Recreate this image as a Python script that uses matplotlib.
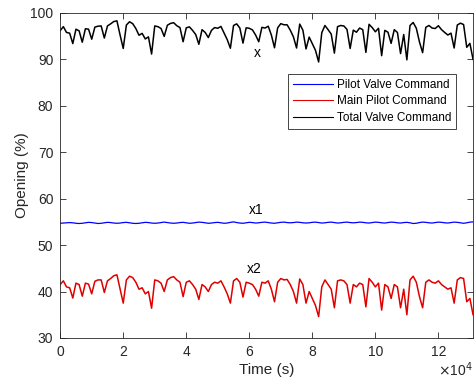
import numpy as np
import matplotlib
matplotlib.use("Agg")
import matplotlib.pyplot as plt

plt.rcParams['font.family'] = ['Liberation Sans', 'DejaVu Sans']

# time grid in seconds (every 1000 s)
time_s = np.arange(0, 132) * 1000

# Main Pilot Command (x2)
main_pilot = [
    41.5, 42.3, 41.0, 40.8, 38.6, 41.8, 41.5, 39.0, 41.8, 41.6,
    39.5, 42.2, 42.5, 42.5, 39.8, 42.3, 42.8, 43.4, 43.6, 40.5,
    37.5, 42.5, 43.3, 43.0, 42.0, 40.5, 40.8, 39.5, 40.0, 36.4,
    42.5, 42.3, 41.8, 40.0, 42.5, 43.0, 43.2, 42.5, 42.0, 38.9,
    42.0, 42.3, 41.5, 40.5, 38.3, 41.5, 41.0, 40.0, 41.5, 42.0,
    41.8, 42.3, 41.0, 39.5, 37.5, 42.3, 42.8, 42.0, 38.8, 42.0,
    41.8, 41.5, 40.5, 39.0, 42.0, 41.8, 42.3, 40.5, 37.8, 42.0,
    42.8, 42.5, 42.6, 41.5, 40.0, 37.5, 42.7, 41.5, 37.5, 40.0,
    38.5, 37.0, 34.6, 41.0, 42.5, 41.5, 40.5, 36.5, 42.3, 42.5,
    42.3, 41.5, 37.5, 41.5, 41.0, 41.8, 41.5, 36.7, 42.8, 42.0,
    41.0, 41.8, 36.0, 41.5, 41.0, 38.5, 41.5, 41.0, 36.5, 40.5,
    35.0, 42.5, 43.3, 42.0, 38.9, 36.5, 42.0, 42.5, 42.0, 41.8,
    42.3, 41.5, 41.0, 40.5, 40.8, 37.5, 42.5, 43.0, 42.8, 37.8,
    38.5, 35.0,
]

# Pilot Valve Command (x1)
pilot_valve = [
    54.70, 54.75, 54.80, 54.85, 54.80, 54.70, 54.65, 54.70, 54.80, 54.90,
    54.85, 54.75, 54.65, 54.70, 54.80, 54.90, 54.85, 54.75, 54.70, 54.75,
    54.85, 54.90, 54.80, 54.70, 54.65, 54.70, 54.80, 54.90, 54.85, 54.75,
    54.70, 54.75, 54.85, 54.95, 54.85, 54.75, 54.70, 54.75, 54.85, 54.90,
    54.80, 54.70, 54.75, 54.85, 54.95, 54.90, 54.80, 54.70, 54.75, 54.85,
    54.90, 54.80, 54.70, 54.75, 54.90, 55.00, 54.85, 54.75, 54.70, 54.80,
    54.90, 54.85, 54.75, 54.80, 54.90, 54.95, 54.85, 54.75, 54.70, 54.80,
    54.90, 54.95, 54.85, 54.80, 54.85, 54.95, 54.90, 54.80, 54.75, 54.80,
    54.90, 54.95, 54.85, 54.75, 54.80, 54.90, 54.95, 54.85, 54.75, 54.80,
    54.90, 54.95, 54.85, 54.80, 54.85, 54.95, 54.90, 54.80, 54.75, 54.85,
    54.95, 54.90, 54.80, 54.75, 54.85, 54.95, 54.90, 54.80, 54.75, 54.85,
    54.90, 54.80, 54.65, 54.70, 54.85, 54.95, 54.90, 54.80, 54.75, 54.85,
    54.95, 54.90, 54.80, 54.75, 54.85, 54.95, 54.90, 54.80, 54.70, 54.80,
    54.95, 55.00,
]

# Total Valve Command = pilot + main
total_valve = np.array(pilot_valve) + np.array(main_pilot)

series_labels = ["Pilot Valve Command", "Main Pilot Command", "Total Valve Command"]
x_ticks = [0, 20000, 40000, 60000, 80000, 100000, 120000]
x_tick_labels = ["0", "2", "4", "6", "8", "10", "12"]
y_ticks = [30, 40, 50, 60, 70, 80, 90, 100]

fig = plt.figure(figsize=(4.74, 3.81), dpi=100)
ax = fig.add_axes([0.127, 0.113, 0.871, 0.853])

ax.plot(time_s, pilot_valve, color='b', lw=0.9, label=series_labels[0])
ax.plot(time_s, main_pilot, color='#e00000', lw=1.1, label=series_labels[1])
ax.plot(time_s, total_valve, color='k', lw=1.1, label=series_labels[2])

ax.set_xlim(0, 131000)
ax.set_ylim(30, 100)
ax.set_xticks(x_ticks)
ax.set_xticklabels(x_tick_labels)
ax.set_yticks(y_ticks)

axcol = '#262626'
for s in ax.spines.values():
    s.set_color(axcol)
    s.set_linewidth(0.6)
ax.tick_params(direction='in', top=True, right=True, length=4, width=0.6,
               colors=axcol, labelsize=10, pad=5)

ax.set_xlabel("Time (s)", fontsize=11, color=axcol, labelpad=3)
ax.set_ylabel("Opening (%)", fontsize=11, color=axcol, labelpad=1)

fig.text(0.96, 0.012, r"$\times$10$^4$", fontsize=10, color=axcol, ha='center')

ax.text(62500, 91.4, "x", fontsize=10, ha='center', va='center')
ax.text(62200, 57.6, "x1", fontsize=10, ha='center', va='center')
ax.text(61600, 44.9, "x2", fontsize=10, ha='center', va='center')

leg = ax.legend(loc='upper right', bbox_to_anchor=(0.959, 0.812), borderaxespad=0,
                fancybox=False, framealpha=1, edgecolor='#262626', fontsize=8.5,
                handlelength=3.4, handletextpad=0.35, labelspacing=0.4,
                borderpad=0.4)
leg.get_frame().set_linewidth(0.6)
for line in leg.get_lines():
    line.set_linewidth(0.8)

fig.savefig("out.png", dpi=100)
